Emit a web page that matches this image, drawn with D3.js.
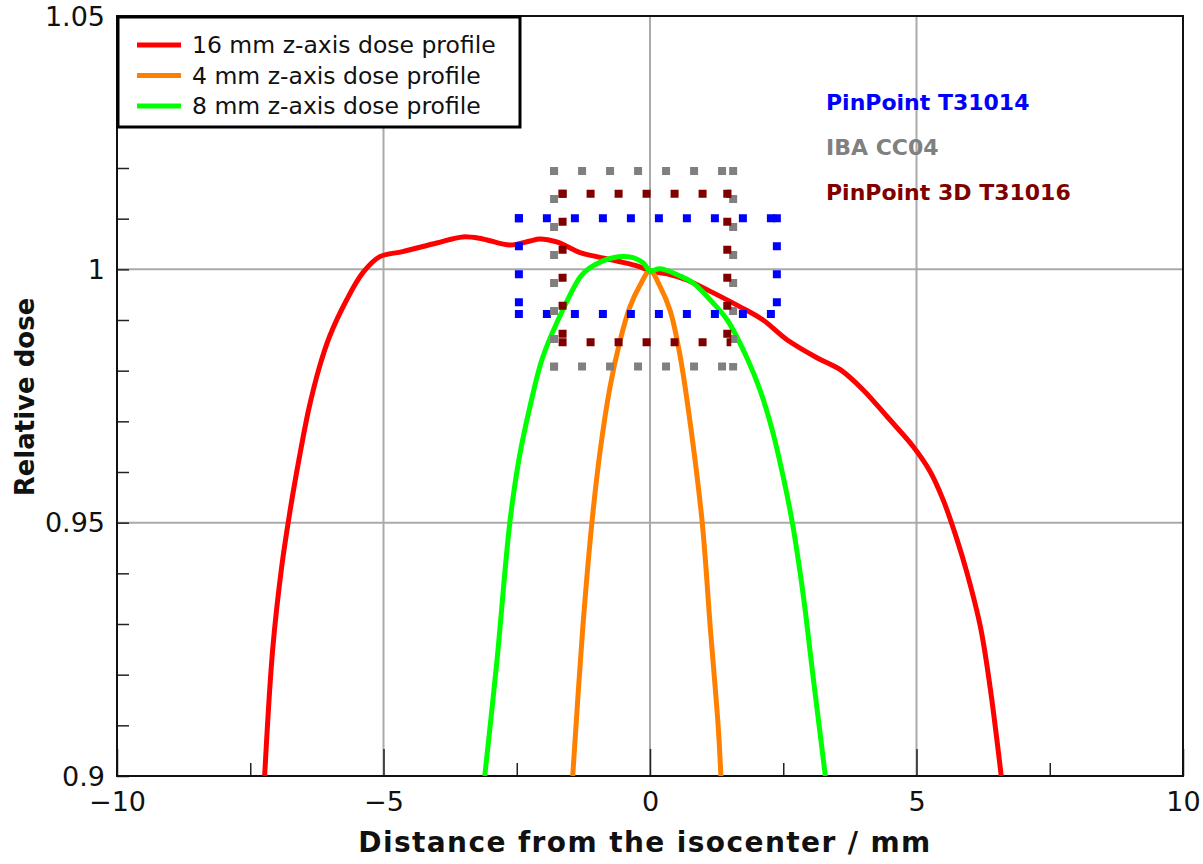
<!DOCTYPE html>
<html>
<head>
<meta charset="utf-8">
<script src="https://cdn.jsdelivr.net/npm/d3@7"></script>
<style>
  body { margin: 0; background: #fff; }
  svg text { font-family: "DejaVu Sans", sans-serif; }
</style>
</head>
<body>
<svg id="chart"></svg>
<script>
// dose profiles: [distance mm, relative dose]
const profile16 = [
  [-7.23, 0.900], [-7.08, 0.9249], [-6.91, 0.9413], [-6.76, 0.9519], [-6.58, 0.9628],
  [-6.40, 0.9725], [-6.20, 0.9808], [-6.01, 0.9868], [-5.69, 0.9940], [-5.39, 0.9993],
  [-5.07, 1.0025], [-4.64, 1.0035], [-4.00, 1.0052], [-3.51, 1.0064], [-3.14, 1.0060],
  [-2.63, 1.0048], [-2.25, 1.0056], [-2.07, 1.0060], [-1.75, 1.0054], [-1.31, 1.0033],
  [-1.00, 1.0025], [-0.56, 1.0015], [-0.19, 1.0005], [0, 0.9997], [0.32, 0.9991],
  [0.69, 0.9979], [1.18, 0.9954], [1.69, 0.9926], [2.12, 0.9900], [2.57, 0.9861],
  [3.14, 0.9825], [3.57, 0.9802], [4.00, 0.9762], [4.45, 0.9709], [4.94, 0.9650],
  [5.25, 0.9602], [5.50, 0.9545], [5.75, 0.9470], [5.95, 0.9400], [6.20, 0.9294],
  [6.38, 0.9176], [6.59, 0.900]
];
const profile4 = [
  [-1.45, 0.900], [-1.26, 0.9294], [-1.09, 0.9500], [-0.94, 0.9638], [-0.75, 0.9768],
  [-0.56, 0.9860], [-0.38, 0.9925], [-0.19, 0.9968], [0, 0.9997], [0.19, 0.9966],
  [0.38, 0.9918], [0.56, 0.9832], [0.75, 0.9700], [0.98, 0.9500],
  [1.13, 0.9294], [1.28, 0.9097], [1.33, 0.900]
];
const profile8 = [
  [-3.10, 0.900], [-2.87, 0.9229], [-2.63, 0.9500], [-2.45, 0.9630], [-2.25, 0.9730],
  [-2.03, 0.9821], [-1.75, 0.9894], [-1.31, 0.9985], [-1.13, 1.0003], [-0.69, 1.0023],
  [-0.32, 1.0023], [-0.13, 1.0013], [0, 0.9997], [0.19, 1.0001], [0.56, 0.9987],
  [0.81, 0.9973], [1.18, 0.9934], [1.45, 0.9900], [1.82, 0.9825], [2.07, 0.9760],
  [2.30, 0.9680], [2.50, 0.9590], [2.67, 0.9500], [2.87, 0.9361], [3.06, 0.9196],
  [3.29, 0.900]
];

const seriesNames = ['16 mm z-axis dose profile', '4 mm z-axis dose profile', '8 mm z-axis dose profile'];
const seriesColors = ['#ff0000', '#ff8000', '#00ff00'];
const seriesData = [profile16, profile4, profile8];

// detector outlines: [xmin, xmax] mm and [ymin, ymax] relative dose
const detectorNames = ['PinPoint T31014', 'IBA CC04', 'PinPoint 3D T31016'];
const detectorColors = ['#0000ff', '#808080', '#800000'];
const detectorX = [[-2.46, 2.38], [-1.80, 1.56], [-1.64, 1.45]];
const detectorY = [[0.9912, 1.0101], [0.9808, 1.0194], [0.9856, 1.0149]];

const xTicks = [-10, -5, 0, 5, 10];
const xMinorTicks = [-7.5, -2.5, 2.5, 7.5];
const yTickLabels = [0.9, 0.95, 1, 1.05];
const yTicks = d3.range(0.9, 1.0501, 0.01);
const xGrid = [-5, 0, 5];
const yGrid = [0.95, 1];

const W = 1203, H = 864;
const margin = { top: 16, right: 20, bottom: 88, left: 117 };
const width = W - margin.left - margin.right;
const height = H - margin.top - margin.bottom;

const svg = d3.select('#chart').attr('width', W).attr('height', H);
const g = svg.append('g').attr('transform', `translate(${margin.left},${margin.top})`);

const x = d3.scaleLinear().domain([-10, 10]).range([0, width]);
const y = d3.scaleLinear().domain([0.9, 1.05]).range([height, 0]);

svg.append('defs').append('clipPath').attr('id', 'clip')
  .append('rect').attr('width', width).attr('height', height);

// grid
g.selectAll('.xgrid').data(xGrid).enter().append('line')
  .attr('x1', d => x(d)).attr('x2', d => x(d)).attr('y1', 0).attr('y2', height)
  .attr('stroke', '#aaaaaa').attr('stroke-width', 2);
g.selectAll('.ygrid').data(yGrid).enter().append('line')
  .attr('x1', 0).attr('x2', width).attr('y1', d => y(d)).attr('y2', d => y(d))
  .attr('stroke', '#aaaaaa').attr('stroke-width', 2);

// axes (ticks point inward)
const xAxis = g.append('g').attr('transform', `translate(0,${height})`)
  .call(d3.axisBottom(x).tickValues(xTicks).tickSizeInner(-27).tickSizeOuter(0)
    .tickFormat(d => d < 0 ? '\u2212' + Math.abs(d) : d).tickPadding(16));
xAxis.selectAll('text').attr('font-size', 27).attr('fill', '#111');
xAxis.select('.domain').remove();
xAxis.selectAll('line').attr('stroke', '#222').attr('stroke-width', 1.5);

g.append('g').attr('transform', `translate(0,${height})`)
  .call(d3.axisBottom(x).tickValues(xMinorTicks).tickSizeInner(-13).tickSizeOuter(0).tickFormat(''))
  .call(a => a.select('.domain').remove())
  .selectAll('line').attr('stroke', '#222').attr('stroke-width', 1.5);

const yAxis = g.append('g')
  .call(d3.axisLeft(y).tickValues(yTicks).tickSizeInner(-12).tickSizeOuter(0).tickFormat(''));
yAxis.select('.domain').remove();
yAxis.selectAll('line').attr('stroke', '#222').attr('stroke-width', 1.5);

g.append('g')
  .selectAll('text').data(yTickLabels).enter().append('text')
  .attr('x', -12).attr('y', d => y(d)).attr('dy', '0.36em')
  .attr('text-anchor', 'end').attr('font-size', 27).attr('fill', '#111')
  .text(d => d3.format('')(d));

// frame
g.append('rect').attr('width', width).attr('height', height)
  .attr('fill', 'none').attr('stroke', '#111').attr('stroke-width', 2);

// profiles
const line = d3.line().x(d => x(d[0])).y(d => y(d[1])).curve(d3.curveCatmullRom.alpha(0.5));
g.append('g').attr('clip-path', 'url(#clip)')
  .selectAll('path').data(seriesData).enter().append('path')
  .attr('d', line).attr('fill', 'none')
  .attr('stroke', (d, i) => seriesColors[i]).attr('stroke-width', 5)
  .attr('stroke-linejoin', 'round');

// detector outlines, dotted
const half = 4;
detectorNames.forEach((name, i) => {
  const x0 = x(detectorX[i][0]), x1 = x(detectorX[i][1]);
  const y0 = y(detectorY[i][1]), y1 = y(detectorY[i][0]);
  const sides = [
    [x0 - half, y0, x1 + half, y0], [x0 - half, y1, x1 + half, y1],
    [x0, y0 - half, x0, y1 + half], [x1, y0 - half, x1, y1 + half]
  ];
  g.append('g').selectAll('line').data(sides).enter().append('line')
    .attr('x1', d => d[0]).attr('y1', d => d[1]).attr('x2', d => d[2]).attr('y2', d => d[3])
    .attr('stroke', detectorColors[i]).attr('stroke-width', 8)
    .attr('stroke-dasharray', '8 20');
  svg.append('text')
    .attr('x', 826).attr('y', 110 + i * 45)
    .attr('font-size', 22).attr('font-weight', 'bold')
    .attr('fill', detectorColors[i]).text(name);
});

// legend
const legend = g.append('g');
legend.append('rect').attr('x', 1).attr('y', 1).attr('width', 402).attr('height', 110)
  .attr('fill', '#fff').attr('stroke', '#000').attr('stroke-width', 3);
seriesNames.forEach((name, i) => {
  const ly = 29 + i * 30.5;
  legend.append('line').attr('x1', 20).attr('x2', 64).attr('y1', ly).attr('y2', ly)
    .attr('stroke', seriesColors[i]).attr('stroke-width', 5);
  legend.append('text').attr('x', 75).attr('y', ly + 8)
    .attr('font-size', 23.5).attr('fill', '#111').text(name);
});

// axis titles
svg.append('text')
  .attr('x', margin.left + x(0) - 5).attr('y', 852)
  .attr('text-anchor', 'middle').attr('font-size', 28).attr('font-weight', 'bold')
  .attr('letter-spacing', 1.4).attr('fill', '#111')
  .text('Distance from the isocenter / mm');

svg.append('text')
  .attr('transform', `translate(34,${397}) rotate(-90)`)
  .attr('text-anchor', 'middle').attr('font-size', 26).attr('font-weight', 'bold')
  .attr('fill', '#111')
  .text('Relative dose');
</script>
</body>
</html>
